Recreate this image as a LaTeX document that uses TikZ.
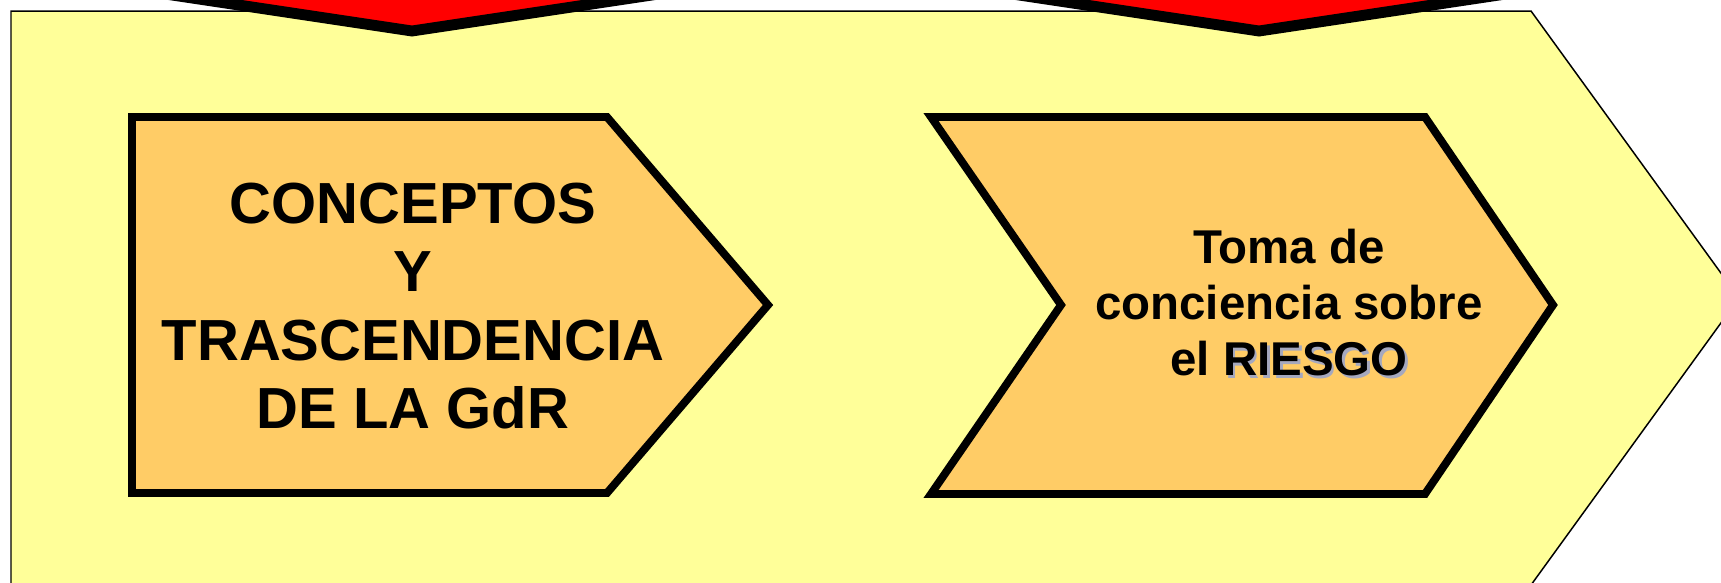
\documentclass[tikz,border=0pt]{standalone}
\usepackage{fontspec}
\setmainfont{Liberation Sans}
\usepackage{xcolor}
\usetikzlibrary{positioning}
\definecolor{paleyellow}{RGB}{255, 255, 153}
\definecolor{softorange}{RGB}{255, 204, 102}
\definecolor{arrowred}{RGB}{255, 0, 0}
\definecolor{shadowblue}{RGB}{165, 168, 190}
\newcommand\shadowword[1]{\makebox[0pt][l]{\hspace{1.5pt}\raisebox{-1.5pt}{\textcolor{shadowblue}{#1}}}#1}

\begin{document}
\begin{tikzpicture}[
    x=0.02cm, y=-0.02cm,
    band/.style={draw=black, line width=0.85pt, fill=paleyellow},
    stage/.style={draw=black, line width=4.5pt, fill=softorange, line join=miter},
    pointer/.style={draw=black, line width=6.2pt, fill=arrowred, line join=miter},
    stagetext/.style={font=\bfseries\fontsize{33}{39}\selectfont, align=center, text=black}
]
    \clip (0,0) rectangle (1721,582);

    % background band
    \draw[band] (11,11) -- (1531,11) -- (1739,298) -- (1531,585) -- (11,585) -- cycle;

    % red arrows coming in from above
    \draw[pointer] (112,-14) -- (412,31) -- (712,-14) -- (712,-80) -- (112,-80) -- cycle;
    \draw[pointer] (959,-14) -- (1259,31) -- (1559,-14) -- (1559,-80) -- (959,-80) -- cycle;

    % stages
    \draw[stage] (132,117) -- (607,117) -- (768,305) -- (607,493) -- (132,493) -- cycle;
    \draw[stage] (931,117) -- (1425,117) -- (1553,305) -- (1425,494) -- (931,494) -- (1061,305) -- cycle;

    \node[stagetext] (concepts) at (413,306) {CONCEPTOS\\Y\\TRASCENDENCIA\\DE LA GdR};
    \node[stagetext, font=\bfseries\fontsize{27}{32}\selectfont] (toma) at (1289,304) {Toma de\\conciencia sobre\\el \shadowword{RIESGO}};
\end{tikzpicture}
\end{document}
